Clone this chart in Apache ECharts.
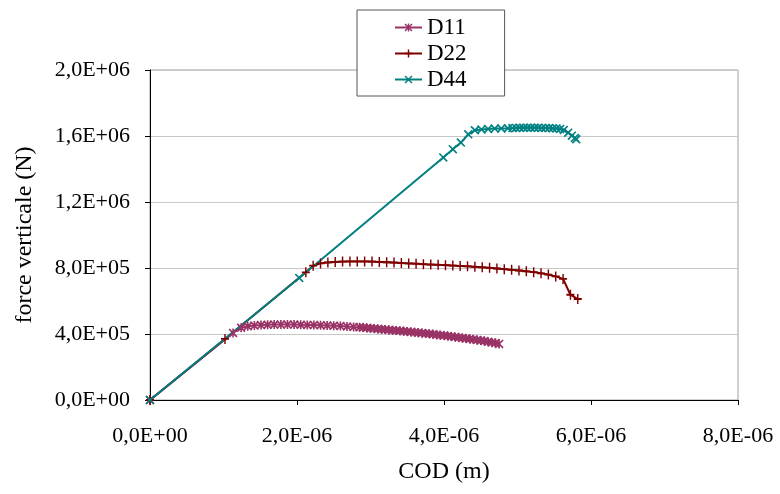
<!DOCTYPE html>
<html>
<head>
<meta charset="utf-8">
<script src="https://cdn.jsdelivr.net/npm/echarts@6/dist/echarts.min.js"></script>
<style>
html,body{margin:0;padding:0;background:#fff;}
#chart{width:780px;height:494px;}
</style>
</head>
<body>
<div id="chart"></div>
<script>
// ---- data (COD in m, force in N) ----
const seriesNames = ['D11', 'D22', 'D44'];
const xTickLabels = ['0,0E+00', '2,0E-06', '4,0E-06', '6,0E-06', '8,0E-06'];
const yTickLabels = ['0,0E+00', '4,0E+05', '8,0E+05', '1,2E+06', '1,6E+06', '2,0E+06'];

const d11Cod = [0, 1.13e-6, 1.24e-6, 1.33e-6, 1.42e-6, 1.51e-6, 1.60e-6, 1.69e-6, 1.78e-6, 1.87e-6, 1.96e-6,
  2.05e-6, 2.14e-6, 2.23e-6, 2.32e-6, 2.41e-6, 2.50e-6, 2.59e-6, 2.68e-6, 2.77e-6, 2.85e-6, 2.90e-6, 2.95e-6,
  3.00e-6, 3.05e-6, 3.10e-6, 3.15e-6, 3.20e-6, 3.25e-6, 3.30e-6, 3.35e-6, 3.40e-6, 3.45e-6, 3.50e-6, 3.55e-6,
  3.60e-6, 3.65e-6, 3.70e-6, 3.75e-6, 3.80e-6, 3.85e-6, 3.90e-6, 3.95e-6, 4.00e-6, 4.05e-6, 4.10e-6, 4.15e-6,
  4.20e-6, 4.25e-6, 4.30e-6, 4.35e-6, 4.40e-6, 4.45e-6, 4.50e-6, 4.55e-6, 4.60e-6, 4.65e-6, 4.70e-6, 4.75e-6];
const d11Force = [0, 406000, 438000, 447000, 451000, 454000, 456000, 457000, 457000, 457000, 457000,
  456000, 455000, 454000, 453000, 452000, 450000, 448000, 446000, 443000, 441000, 439000, 437000,
  435000, 433000, 431000, 429000, 427000, 425000, 423000, 421000, 419000, 417000, 415000, 412000,
  410000, 408000, 406000, 403000, 401000, 399000, 396000, 393000, 391000, 388000, 385000, 382000,
  379000, 376000, 373000, 370000, 367000, 364000, 360000, 357000, 353000, 349000, 345000, 340000];

const d22Cod = [0, 1.02e-6, 2.12e-6, 2.22e-6, 2.32e-6, 2.42e-6, 2.52e-6, 2.62e-6, 2.72e-6, 2.82e-6, 2.92e-6,
  3.02e-6, 3.12e-6, 3.22e-6, 3.32e-6, 3.42e-6, 3.52e-6, 3.62e-6, 3.72e-6, 3.82e-6, 3.92e-6, 4.02e-6,
  4.12e-6, 4.22e-6, 4.32e-6, 4.42e-6, 4.52e-6, 4.62e-6, 4.72e-6, 4.82e-6, 4.92e-6, 5.02e-6, 5.12e-6,
  5.22e-6, 5.32e-6, 5.42e-6, 5.52e-6, 5.62e-6, 5.72e-6, 5.82e-6];
const d22Force = [0, 370000, 774000, 814000, 828000, 834000, 837000, 839000, 840000, 840000, 840000,
  839000, 837000, 835000, 833000, 830000, 828000, 826000, 823000, 821000, 819000, 817000,
  815000, 812000, 810000, 807000, 804000, 801000, 797000, 793000, 789000, 785000, 780000,
  775000, 768000, 760000, 749000, 734000, 638000, 612000];

const d44Cod = [0, 2.03e-6, 3.99e-6, 4.12e-6, 4.23e-6, 4.33e-6, 4.42e-6, 4.51e-6, 4.60e-6, 4.69e-6, 4.78e-6,
  4.87e-6, 4.93e-6, 4.98e-6, 5.03e-6, 5.08e-6, 5.13e-6, 5.18e-6, 5.23e-6, 5.28e-6, 5.33e-6, 5.38e-6,
  5.43e-6, 5.48e-6, 5.53e-6, 5.58e-6, 5.63e-6, 5.69e-6, 5.74e-6, 5.78e-6, 5.80e-6];
const d44Force = [0, 740000, 1470000, 1520000, 1560000, 1610000, 1635000, 1640000, 1643000, 1645000, 1646000,
  1647000, 1648000, 1649000, 1650000, 1650000, 1650000, 1650000, 1650000, 1650000, 1649000, 1649000,
  1648000, 1647000, 1646000, 1643000, 1637000, 1620000, 1602000, 1588000, 1580000];

// ---- styling ----
const FONT = 'Liberation Serif, Times New Roman, serif';
const colors = ['#993366', '#800000', '#008080'];
const symStar = 'path://M0,1.3L1.3,0L10,8.7L8.7,10Z M8.7,0L10,1.3L1.3,10L0,8.7Z M4.1,0H5.9V10H4.1Z';
const symPlus = 'path://M4.1,0H5.9V10H4.1Z M0,4.1H10V5.9H0Z';
const symCross = 'path://M0,1.3L1.3,0L10,8.7L8.7,10Z M8.7,0L10,1.3L1.3,10L0,8.7Z';

function pairs(xs, ys) { return xs.map((x, i) => [x, ys[i]]); }

const chart = echarts.init(document.getElementById('chart'), null, { renderer: 'canvas' });

function makeSeries(name, xs, ys, color, symbol, size) {
  return {
    name: name,
    type: 'line',
    data: pairs(xs, ys),
    symbol: symbol,
    symbolSize: size,
    showAllSymbol: true,
    lineStyle: { color: color, width: 2 },
    itemStyle: { color: color, borderWidth: 0 },
    emphasis: { disabled: true },
    animation: false
  };
}

chart.setOption({
  animation: false,
  backgroundColor: '#fff',
  grid: {
    left: 150, right: 42, top: 70, bottom: 94,
    show: true, borderColor: '#a0a0a0', borderWidth: 1, backgroundColor: '#fff'
  },
  legend: {
    orient: 'vertical',
    left: 357, top: 10,
    padding: [6, 38, 5, 37],
    itemGap: 3,
    itemWidth: 27, itemHeight: 10,
    borderColor: '#555', borderWidth: 1, backgroundColor: '#fff',
    textStyle: { fontFamily: FONT, fontSize: 23, color: '#000', lineHeight: 22 },
    data: seriesNames
  },
  xAxis: {
    type: 'value',
    min: 0, max: 8e-6, interval: 2e-6,
    name: 'COD (m)',
    nameLocation: 'middle',
    nameGap: 60,
    nameTextStyle: { fontFamily: FONT, fontSize: 24, color: '#000' },
    axisLine: { show: true, lineStyle: { color: '#000', width: 1 } },
    axisTick: { show: true, inside: false, length: 5, lineStyle: { color: '#000' } },
    axisLabel: {
      margin: 25, fontFamily: FONT, fontSize: 22, color: '#000',
      formatter: function (v) { return xTickLabels[Math.round(v / 2e-6)]; }
    },
    splitLine: { show: false }
  },
  yAxis: {
    type: 'value',
    min: 0, max: 2e6, interval: 4e5,
    name: 'force verticale (N)',
    nameLocation: 'middle',
    nameGap: 113,
    nameTextStyle: { fontFamily: FONT, fontSize: 24, color: '#000' },
    axisLine: { show: true, lineStyle: { color: '#000', width: 1 } },
    axisTick: { show: true, inside: false, length: 5, lineStyle: { color: '#000' } },
    axisLabel: {
      margin: 20, fontFamily: FONT, fontSize: 22, color: '#000',
      formatter: function (v) { return yTickLabels[Math.round(v / 4e5)]; }
    },
    splitLine: { show: true, lineStyle: { color: '#c8c8c8', width: 1 } }
  },
  series: [
    makeSeries(seriesNames[0], d11Cod, d11Force, colors[0], symStar, [9, 9]),
    makeSeries(seriesNames[1], d22Cod, d22Force, colors[1], symPlus, [8, 10]),
    makeSeries(seriesNames[2], d44Cod, d44Force, colors[2], symCross, [9, 9])
  ]
});
</script>
</body>
</html>
